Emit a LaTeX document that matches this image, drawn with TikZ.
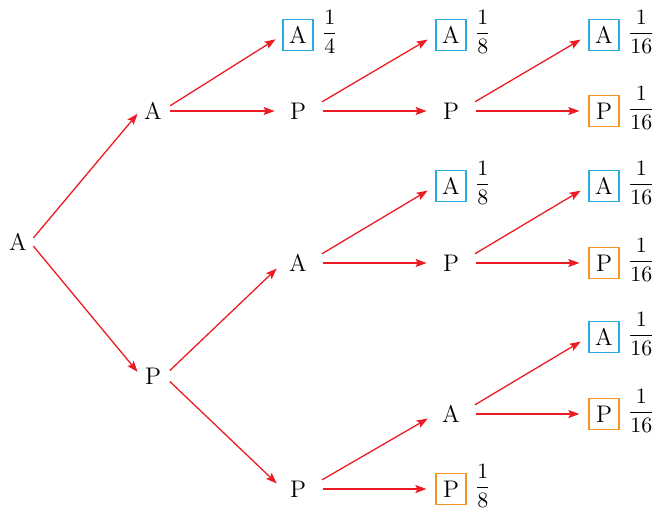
\documentclass[11pt,tikz,border=0pt]{standalone}
\usepackage{amsmath}
\usepackage{xcolor}
\usetikzlibrary{arrows.meta,positioning}

\definecolor{arrowred}{RGB}{237,28,36}
\definecolor{boxcyan}{RGB}{41,171,226}
\definecolor{boxorange}{RGB}{247,148,30}

\begin{document}
\begin{tikzpicture}[x=0.5pt, y=-0.5pt,
        state/.style={minimum width=15pt, minimum height=15.5pt, inner sep=0pt, font=\large},
        outA/.style={state, draw=boxcyan, line width=0.6pt},
        outP/.style={state, draw=boxorange, line width=0.6pt},
        prob/.style={inner sep=0pt, yshift=1.5pt},
        line/.style={-{Stealth[length=5.5pt,width=4pt,inset=1pt]}, arrowred, line width=0.65pt,
                     shorten <=5pt, shorten >=4.5pt}
    ]
        \useasboundingbox (0,0) rectangle (659,511);

        % Root and first step
        \node[state] (R) at (18,242) {A};
        \node[state] (A1) at (153,111) {A};
        \node[state] (P1) at (153,376) {P};

        % Second step
        \node[outA] (AA) at (298,35) {A};
        \node[state] (AP) at (298,111) {P};
        \node[state] (PA) at (298,263) {A};
        \node[state] (PP) at (298,489) {P};

        % Third step
        \node[outA] (APA) at (451,35) {A};
        \node[state] (APP) at (451,111) {P};
        \node[outA] (PAA) at (451,186) {A};
        \node[state] (PAP) at (451,263) {P};
        \node[state] (PPA) at (451,414) {A};
        \node[outP] (PPP) at (451,489) {P};

        % Fourth step
        \node[outA] (APPA) at (604,35) {A};
        \node[outP] (APPP) at (604,111) {P};
        \node[outA] (PAPA) at (604,186) {A};
        \node[outP] (PAPP) at (604,263) {P};
        \node[outA] (PPAA) at (604,337) {A};
        \node[outP] (PPAP) at (604,414) {P};

        % Probabilities
        \node[prob, right=4pt of AA] (fAA) {$\dfrac{1}{4}$};
        \node[prob, right=4pt of APA] (fAPA) {$\dfrac{1}{8}$};
        \node[prob, right=4pt of PAA] (fPAA) {$\dfrac{1}{8}$};
        \node[prob, right=4pt of PPP] (fPPP) {$\dfrac{1}{8}$};
        \node[prob, right=4pt of APPA] (fAPPA) {$\dfrac{1}{16}$};
        \node[prob, right=4pt of APPP] (fAPPP) {$\dfrac{1}{16}$};
        \node[prob, right=4pt of PAPA] (fPAPA) {$\dfrac{1}{16}$};
        \node[prob, right=4pt of PAPP] (fPAPP) {$\dfrac{1}{16}$};
        \node[prob, right=4pt of PPAA] (fPPAA) {$\dfrac{1}{16}$};
        \node[prob, right=4pt of PPAP] (fPPAP) {$\dfrac{1}{16}$};

        % Branches
        \draw[line, shorten <=0pt, shorten >=0pt] (R.15) -- (A1.190);
        \draw[line, shorten <=0pt, shorten >=0pt] (R.-15) -- (P1.165);

        \draw[line, shorten <=1pt, shorten >=4pt] (A1.15) -- (AA.west);
        \draw[line, shorten <=1pt, shorten >=4pt] (A1.east) -- (AP.west);
        \draw[line, shorten <=1pt, shorten >=4pt] (P1.15) -- (PA.west);
        \draw[line, shorten <=1pt, shorten >=4pt] (P1.-15) -- (PP.west);

        \draw[line] (AP.15) -- (APA.west);
        \draw[line] (AP.east) -- (APP.west);
        \draw[line] (PA.15) -- (PAA.west);
        \draw[line] (PA.east) -- (PAP.west);
        \draw[line] (PP.15) -- (PPA.west);
        \draw[line] (PP.east) -- (PPP.west);

        \draw[line] (APP.15) -- (APPA.west);
        \draw[line] (APP.east) -- (APPP.west);
        \draw[line] (PAP.15) -- (PAPA.west);
        \draw[line] (PAP.east) -- (PAPP.west);
        \draw[line] (PPA.15) -- (PPAA.west);
        \draw[line] (PPA.east) -- (PPAP.west);
    \end{tikzpicture}
\end{document}
